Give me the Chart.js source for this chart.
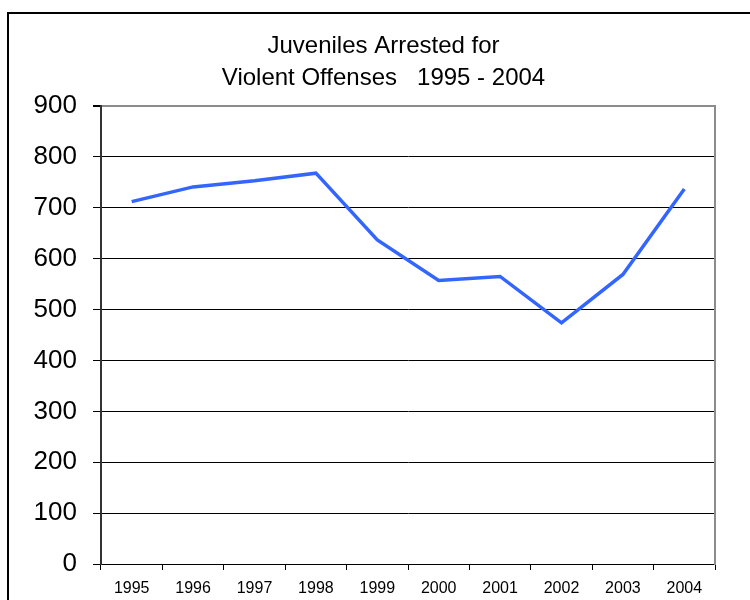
<!DOCTYPE html>
<html>
<head>
<meta charset="utf-8">
<script src="https://cdn.jsdelivr.net/npm/chart.js@4/dist/chart.umd.min.js"></script>
<style>
    html, body { margin: 0; padding: 0; background: #fff; }
    #wrap { width: 750px; height: 600px; }
</style>
</head>
<body>
<div id="wrap"><canvas id="lineChart" width="750" height="600"></canvas></div>
<script>
const years = ['1995', '1996', '1997', '1998', '1999', '2000', '2001', '2002', '2003', '2004'];
const arrests = [712, 741, 753, 768, 637, 557, 565, 474, 569, 737];
const titleLines = ['Juveniles Arrested for', 'Violent Offenses   1995 - 2004'];
const yMin = 0, yMax = 900, yStep = 100;

const FONT = "'Liberation Sans', Arial, sans-serif";

// outer frame round the chart (the right and bottom edges fall off the page)
const framePlugin = {
    id: 'frame',
    afterDraw(chart) {
        const ctx = chart.ctx;
        ctx.save();
        ctx.strokeStyle = '#000';
        ctx.lineWidth = 2;
        ctx.strokeRect(8, 13, 770, 620);
        ctx.restore();
    }
};

new Chart(document.getElementById('lineChart'), {
    type: 'line',
    data: {
        labels: years,
        datasets: [{
            label: 'Juveniles arrested',
            data: arrests,
            borderColor: '#3366ff',
            borderWidth: 3.5,
            pointRadius: 0,
            tension: 0,
            fill: false
        }]
    },
    options: {
        responsive: false,
        animation: false,
        layout: {padding: {left: 17, right: 0, top: 12, bottom: 0}},
        plugins: {
            legend: {display: false},
            tooltip: {enabled: false},
            title: {
                display: true,
                text: titleLines,
                color: '#000',
                font: {family: FONT, size: 24, weight: 'normal', lineHeight: 32 / 24},
                padding: {top: 18, bottom: 12}
            }
        },
        scales: {
            x: {
                offset: true,
                grid: {
                    display: true,
                    drawOnChartArea: false,
                    offset: true,
                    color: '#000',
                    tickLength: 6
                },
                border: {display: true, color: '#000', width: 1},
                ticks: {
                    color: '#000',
                    padding: 9,
                    maxRotation: 0,
                    font: {family: FONT, size: 16}
                },
                afterFit(scale) { scale.height = 36; }
            },
            y: {
                min: yMin,
                max: yMax,
                ticks: {
                    stepSize: yStep,
                    color: '#000',
                    padding: 16,
                    font: {family: FONT, size: 26}
                },
                grid: {
                    color: ctx => ctx.tick && ctx.tick.value === yMax ? '#8c8c8c' : '#000',
                    lineWidth: ctx => ctx.tick && ctx.tick.value === yMax ? 2 : 1,
                    tickColor: '#000',
                    tickLength: 8
                },
                border: {display: true, color: '#333', width: 2},
                afterFit(scale) { scale.width = 84; }
            },
            edge: {
                type: 'linear',
                position: 'right',
                display: true,
                grid: {drawOnChartArea: false, drawTicks: false},
                ticks: {display: false},
                border: {display: true, color: '#8c8c8c', width: 2},
                afterFit(scale) { scale.width = 35; }
            }
        }
    },
    plugins: [framePlugin]
});
</script>
</body>
</html>
